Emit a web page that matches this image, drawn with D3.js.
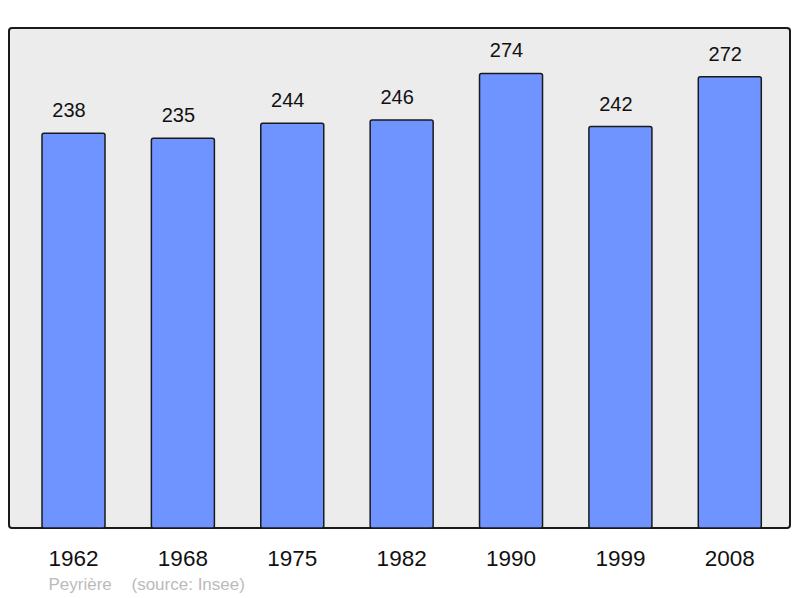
<!DOCTYPE html>
<html>
<head>
<meta charset="utf-8">
<script src="https://cdn.jsdelivr.net/npm/d3@7"></script>
<style>
  body { margin: 0; background: #fff; }
  text { font-family: "Liberation Sans", Arial, sans-serif; }
</style>
</head>
<body>
<div class="canva"></div>
<script>
// data
const years = ['1962', '1968', '1975', '1982', '1990', '1999', '2008'];
const population = [238, 235, 244, 246, 274, 242, 272];
const commune = 'Peyrière';
const source = '(source: Insee)';

const svg = d3.select('.canva').append('svg')
              .attr('width', 800)
              .attr('height', 598);

// plot frame
const frame = {left: 9, top: 28, right: 790, bottom: 528};

svg.append('rect')
   .attr('x', frame.left)
   .attr('y', frame.top)
   .attr('width', frame.right - frame.left)
   .attr('height', frame.bottom - frame.top)
   .attr('rx', 3)
   .attr('fill', '#ececec')
   .attr('stroke', '#1a1a1a')
   .attr('stroke-width', 2);

// scales
const x = d3.scaleBand()
            .domain(years)
            .range([42, 761.3])
            .paddingInner(0.424)
            .paddingOuter(0);

const y = d3.scaleLinear()
            .domain([0, d3.max(population) * 1.1])
            .range([frame.bottom, frame.top]);

const data = years.map((yr, i) => ({year: yr, value: population[i]}));

// bars
svg.selectAll('rect.bar')
   .data(data)
   .enter().append('rect')
   .attr('class', 'bar')
   .attr('x', d => x(d.year))
   .attr('y', d => y(d.value))
   .attr('width', x.bandwidth())
   .attr('height', d => frame.bottom - y(d.value))
   .attr('rx', 2)
   .attr('fill', '#7094ff')
   .attr('stroke', '#1a1a1a')
   .attr('stroke-width', 1.5);

// value labels (sit a bit left of bar centre, like the original)
svg.selectAll('text.val')
   .data(data)
   .enter().append('text')
   .attr('class', 'val')
   .attr('x', d => x(d.year) + x.bandwidth() / 2 - 4.5)
   .attr('y', d => y(d.value) - 16)
   .attr('text-anchor', 'middle')
   .attr('font-size', 20)
   .attr('fill', '#111')
   .text(d => d.value);

// year labels (axis)
const xAxis = d3.axisBottom(x).tickSize(0).tickPadding(0);
const axisG = svg.append('g')
                 .attr('transform', `translate(0, ${frame.bottom})`)
                 .call(xAxis);
axisG.select('.domain').remove();
axisG.selectAll('text')
     .attr('dy', null)
     .attr('y', 38)
     .attr('font-size', 22.5)
     .attr('fill', '#111')
     .style('font-family', '"Liberation Sans", Arial, sans-serif');

// footer
svg.append('text')
   .attr('x', 48.5)
   .attr('y', 590)
   .attr('font-size', 17)
   .attr('fill', '#bbbbbb')
   .text(commune);
svg.append('text')
   .attr('x', 131.5)
   .attr('y', 590)
   .attr('font-size', 17)
   .attr('fill', '#bbbbbb')
   .text(source);
</script>
</body>
</html>
